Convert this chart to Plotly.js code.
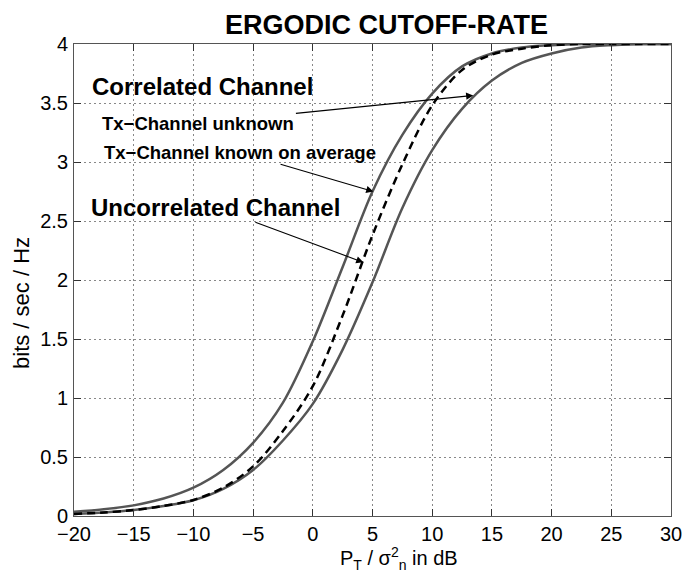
<!DOCTYPE html>
<html>
<head>
<meta charset="utf-8">
<script src="https://cdn.plot.ly/plotly-3.0.1.min.js"></script>
<style>html,body{margin:0;padding:0;background:#fff;}#chart{width:683px;height:575px;}</style>
</head>
<body>
<div id="chart"></div>
<script>
// P_T / sigma_n^2 in dB
const snrDb = [-20, -17.5, -15, -12.5, -10, -7.5, -5, -2.5, 0, 2.5, 5, 7.5, 10, 12.5, 15, 17.5, 20, 22.5, 25, 27.5, 30];
// Correlated channel, Tx-channel known on average (upper solid)
const knownOnAverage = [0.035, 0.057, 0.09, 0.148, 0.24, 0.39, 0.62, 0.96, 1.48, 2.11, 2.75, 3.23, 3.58, 3.81, 3.92, 3.97, 3.99, 4.0, 4.0, 4.0, 4.0];
// Correlated channel, Tx-channel unknown (lower solid)
const txUnknown = [0.018, 0.03, 0.05, 0.085, 0.134, 0.23, 0.39, 0.64, 0.95, 1.41, 1.98, 2.61, 3.10, 3.45, 3.69, 3.84, 3.92, 3.97, 3.99, 4.0, 4.0];
// Uncorrelated channel (dashed)
const uncorrelated = [0.018, 0.03, 0.05, 0.085, 0.136, 0.24, 0.42, 0.72, 1.10, 1.70, 2.38, 2.98, 3.48, 3.78, 3.91, 3.96, 3.99, 4.0, 4.0, 4.0, 4.0];

const xTicks = [-20, -15, -10, -5, 0, 5, 10, 15, 20, 25, 30];
const yTicks = [0, 0.5, 1, 1.5, 2, 2.5, 3, 3.5, 4];
const yTickLabels = ['0', '0.5', '1', '1.5', '2', '2.5', '3', '3.5', '4'];

const FONT = 'Liberation Sans, Arial, Helvetica, sans-serif';

const traces = [
  {x: snrDb, y: knownOnAverage, mode: 'lines', name: 'Tx-Channel known on average',
   line: {color: '#555555', width: 2.5, shape: 'spline', smoothing: 0.9}},
  {x: snrDb, y: txUnknown, mode: 'lines', name: 'Tx-Channel unknown',
   line: {color: '#555555', width: 2.5, shape: 'spline', smoothing: 0.9}},
  {x: snrDb, y: uncorrelated, mode: 'lines', name: 'Uncorrelated Channel',
   line: {color: '#000000', width: 2.5, dash: '8px,5px', shape: 'spline', smoothing: 0.9}}
];

function label(text, x, y, size) {
  return {text: text, x: x, y: y, xref: 'x', yref: 'y', xanchor: 'left', yanchor: 'middle',
          showarrow: false, font: {family: FONT, size: size, color: '#000', weight: 'bold'}};
}
// label whose arrow runs from the text box to the curve
function arrowLabel(text, tipX, tipY, cx, cy, size) {
  return {text: text, x: tipX, y: tipY, ax: cx, ay: cy, xref: 'x', yref: 'y', axref: 'x', ayref: 'y',
          showarrow: true, arrowhead: 2, arrowsize: 1.3, arrowwidth: 1.1, arrowcolor: '#000',
          font: {family: FONT, size: size, color: '#000', weight: 'bold'}};
}

const layout = {
  width: 683, height: 575,
  margin: {l: 74, r: 12, t: 44, b: 59},
  paper_bgcolor: '#fff', plot_bgcolor: '#fff',
  showlegend: false,
  font: {family: FONT, color: '#000'},
  title: {text: 'ERGODIC CUTOFF-RATE', font: {family: FONT, size: 27, weight: 'bold', color: '#000'},
          xref: 'container', x: 0.566, xanchor: 'center', yref: 'container', y: 0.957, yanchor: 'middle'},
  xaxis: {
    range: [-20, 30], tickvals: xTicks, ticks: 'inside', ticklen: 7, tickcolor: '#333',
    showline: true, linecolor: '#555', linewidth: 1, mirror: 'ticks',
    showgrid: true, gridcolor: '#888', griddash: '2px,3px', gridwidth: 1, zeroline: false,
    tickfont: {family: FONT, size: 20, color: '#000'}
  },
  yaxis: {
    range: [0, 4], tickvals: yTicks, ticktext: yTickLabels, ticks: 'inside', ticklen: 7, tickcolor: '#333',
    showline: true, linecolor: '#555', linewidth: 1, mirror: 'ticks',
    showgrid: true, gridcolor: '#888', griddash: '2px,3px', gridwidth: 1, zeroline: false,
    tickfont: {family: FONT, size: 20, color: '#000'}, ticklabelstandoff: 1
  },
  annotations: [
    // axis titles
    {text: 'P<sub>T</sub> / σ<sup>2</sup><sub>n</sub> in dB', xref: 'paper', yref: 'paper',
     x: 0.5444, y: -0.091, xanchor: 'center', yanchor: 'middle', showarrow: false,
     font: {family: FONT, size: 20, color: '#000'}},
    {text: 'bits / sec / Hz', xref: 'paper', yref: 'paper', textangle: -90,
     x: -0.0871, y: 0.4513, xanchor: 'center', yanchor: 'middle', showarrow: false,
     font: {family: FONT, size: 22, color: '#000'}},
    // in-plot labels
    label('Correlated Channel', -18.66, 3.64, 24),
    arrowLabel('Tx\u2212Channel unknown', 13.44, 3.564, -9.58, 3.329, 18.5),
    arrowLabel('Tx\u2212Channel known on average', 5.07, 2.75, -6.12, 3.083, 18.5),
    arrowLabel('Uncorrelated Channel', 4.23, 2.15, -8.19, 2.617, 24)
  ]
};

Plotly.newPlot('chart', traces, layout, {displayModeBar: false, staticPlot: true});
</script>
</body>
</html>
